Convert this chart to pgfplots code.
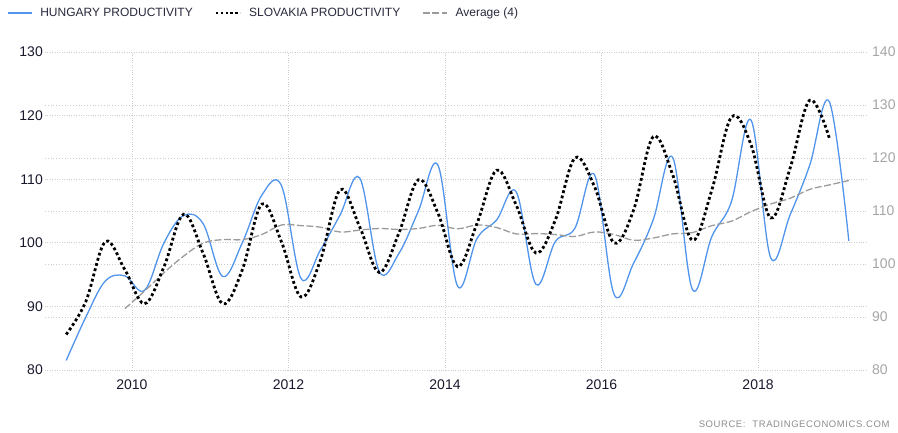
\documentclass[border=0pt]{standalone}
\usepackage{fontspec}
\setmainfont{Liberation Sans}
\usepackage{pgfplots}
\usepackage{pgfplotstable}
\pgfplotsset{compat=1.18}
\definecolor{hun}{RGB}{80,148,236}
\definecolor{gridc}{RGB}{205,205,205}
\definecolor{avgc}{RGB}{155,155,155}
\definecolor{ticklab}{RGB}{25,25,45}
\definecolor{rlab}{RGB}{165,165,165}
\definecolor{srcc}{RGB}{140,140,140}
\definecolor{legtext}{RGB}{40,40,60}

\pgfplotstableread{
x y
2009.16 81.5
2009.41 88.3
2009.66 94.0
2009.91 94.8
2010.16 92.5
2010.41 100.0
2010.66 104.3
2010.91 103.0
2011.16 94.7
2011.41 100.0
2011.66 107.5
2011.91 109.0
2012.16 94.4
2012.41 98.9
2012.66 104.4
2012.91 110.2
2013.16 95.5
2013.41 98.3
2013.66 105.0
2013.91 112.2
2014.16 93.2
2014.41 100.7
2014.66 103.6
2014.91 108.0
2015.16 93.5
2015.41 100.2
2015.66 102.3
2015.91 110.7
2016.16 91.9
2016.41 96.8
2016.66 103.6
2016.91 113.4
2017.16 92.7
2017.41 101.0
2017.66 106.5
2017.91 119.3
2018.16 97.7
2018.41 104.4
2018.66 112.2
2018.91 122.2
2019.16 100.3
}\hungary

\pgfplotstableread{
x y
2009.16 86.7
2009.41 92.9
2009.66 104.2
2009.91 98.9
2010.16 92.5
2010.41 99.5
2010.66 109.4
2010.91 102.0
2011.16 92.5
2011.41 98.9
2011.66 111.3
2011.91 104.2
2012.16 93.8
2012.41 100.8
2012.66 114.0
2012.91 107.0
2013.16 98.4
2013.41 105.8
2013.66 115.9
2013.91 109.6
2014.16 99.5
2014.41 107.7
2014.66 117.7
2014.91 111.1
2015.16 102.1
2015.41 108.3
2015.66 120.0
2015.91 114.6
2016.16 104.0
2016.41 110.2
2016.66 124.0
2016.91 116.8
2017.16 104.5
2017.41 114.0
2017.66 127.7
2017.91 122.5
2018.16 108.7
2018.41 118.1
2018.66 130.9
2018.91 123.8
}\slovakia

\pgfplotstableread{
x y
2009.91 89.65
2010.16 92.4
2010.41 95.3
2010.66 97.9
2010.91 99.95
2011.16 100.5
2011.41 100.5
2011.66 101.3
2011.91 102.8
2012.16 102.7
2012.41 102.45
2012.66 101.7
2012.91 102.0
2013.16 102.25
2013.41 102.1
2013.66 102.25
2013.91 102.75
2014.16 102.2
2014.41 102.8
2014.66 102.4
2014.91 101.4
2015.16 101.45
2015.41 101.3
2015.66 101.0
2015.91 101.7
2016.16 101.3
2016.41 100.4
2016.66 100.75
2016.91 101.4
2017.16 101.6
2017.41 102.7
2017.66 103.4
2017.91 104.9
2018.16 106.1
2018.41 107.0
2018.66 108.4
2018.91 109.1
2019.16 109.8
}\average

\begin{document}
\begin{tikzpicture}[x=1pt,y=1pt]
\path[use as bounding box] (0,0) rectangle (898,432);
\begin{axis}[
  at={(45pt,62pt)}, anchor=south west,
  scale only axis, width=822pt, height=318pt,
  xmin=2008.889, xmax=2019.392, ymin=80, ymax=130,
  xtick={2010,2012,2014,2016,2018},
  ytick={80,90,100,110,120,130},
  /pgf/number format/assume math mode=true,
  /pgf/number format/1000 sep={},
  xticklabel style={font=\fontsize{14}{16}\selectfont, text=ticklab, inner sep=0pt, yshift=-10pt},
  yticklabel style={font=\fontsize{14}{16}\selectfont, text=ticklab, inner sep=0pt, xshift=-2pt},
  axis line style={draw=none},
  major tick length=0pt,
  grid=major,
  grid style={gridc, dotted, line width=0.8pt},
  extra y ticks={88.333,96.667,105,113.333,121.667},
  extra y tick labels={},
  extra y tick style={grid=major, grid style={gridc, dotted, line width=0.8pt}},
  clip=false,
  legend image code/.code={\draw[#1] (0pt,0pt) -- (24pt,0pt);},
  legend cell align=left,
  legend columns=3,
  legend style={
    at={(axis description cs:-0.0462,1.1226)}, anchor=west,
    draw=none, fill=none, inner sep=0pt, outer sep=0pt,
    font=\fontsize{12}{14}\selectfont, text=legtext,
    /tikz/every odd column/.append style={column sep=6pt},
    /tikz/every even column/.append style={column sep=20pt},
  },
]
\addplot[hun, line width=1.3pt, smooth, tension=0.6] table[x=x,y=y] {\hungary};
\addlegendentry{HUNGARY PRODUCTIVITY}
\addlegendimage{black, line width=2.4pt, dash pattern=on 2.4pt off 2.4pt}
\addlegendentry{SLOVAKIA PRODUCTIVITY}
\addplot[avgc, line width=1.3pt, smooth, tension=0.6, dash pattern=on 7pt off 2.5pt] table[x=x,y=y] {\average};
\addlegendentry{Average (4)}
\end{axis}
\begin{axis}[
  at={(45pt,62pt)}, anchor=south west,
  scale only axis, width=822pt, height=318pt,
  xmin=2008.889, xmax=2019.392, ymin=80, ymax=140,
  ytick={80,90,100,110,120,130,140},
  axis y line*=right,
  hide x axis,
  /pgf/number format/assume math mode=true,
  yticklabel style={font=\fontsize{14}{16}\selectfont, text=rlab, inner sep=0pt, anchor=west, xshift=5pt},
  axis line style={draw=none},
  major tick length=0pt,
  clip=false,
]
\addplot[black, line width=2.8pt, smooth, tension=0.6, dash pattern=on 2.8pt off 2.6pt] table[x=x,y=y] {\slovakia};
\end{axis}
\node[anchor=east, text=srcc, font=\fontsize{9.5}{11}\selectfont\addfontfeatures{LetterSpace=6}] at (893,8) {SOURCE:\hspace{7pt}TRADINGECONOMICS.COM};
\end{tikzpicture}
\end{document}
